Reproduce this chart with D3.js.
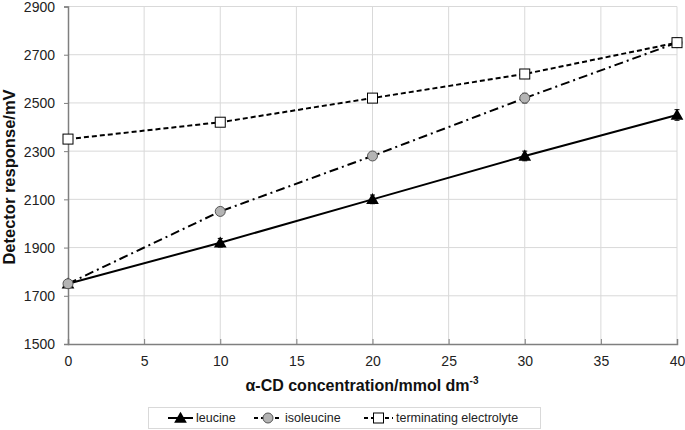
<!DOCTYPE html>
<html><head><meta charset="utf-8">
<script src="https://cdn.jsdelivr.net/npm/d3@7"></script>
<style>body{margin:0;background:#fff}svg{display:block;font-family:"Liberation Sans",Arial,sans-serif}</style>
</head><body><svg id="c" width="685" height="430"></svg>
<script>
const concentrations = [0, 10, 20, 30, 40];
const leucine = [1750, 1920, 2100, 2280, 2450];
const isoleucine = [1750, 2050, 2280, 2520, 2750];
const terminating = [2350, 2420, 2520, 2620, 2750];
const leucineErr = [15, 18, 18, 20, 22];
const isoleucineErr = [12, 15, 15, 20, 18];
const terminatingErr = [8, 8, 8, 10, 10];
const xTicks = [0, 5, 10, 15, 20, 25, 30, 35, 40];
const yTicks = [1500, 1700, 1900, 2100, 2300, 2500, 2700, 2900];
const seriesNames = ["leucine", "isoleucine", "terminating electrolyte"];

const svg = d3.select("#c");
const x = d3.scaleLinear().domain([0, 40]).range([68, 677]);
const y = d3.scaleLinear().domain([1500, 2900]).range([344, 6.5]);

// grid
svg.append("g").selectAll("line").data(xTicks.slice(1)).join("line")
  .attr("x1", d => x(d)).attr("x2", d => x(d)).attr("y1", y(2900)).attr("y2", y(1500))
  .attr("stroke", "#d9d9d9").attr("stroke-width", 1);
svg.append("g").selectAll("line").data(yTicks.slice(1)).join("line")
  .attr("x1", x(0)).attr("x2", x(40)).attr("y1", d => y(d)).attr("y2", d => y(d))
  .attr("stroke", "#d9d9d9").attr("stroke-width", 1);

// axes
const xAxis = svg.append("g").attr("transform", `translate(0,${y(1500)})`)
  .call(d3.axisBottom(x).tickValues(xTicks).tickSize(-5).tickPadding(12).tickFormat(d3.format("d")));
const yAxis = svg.append("g").attr("transform", `translate(${x(0)},0)`)
  .call(d3.axisLeft(y).tickValues(yTicks).tickSize(4).tickPadding(9).tickFormat(d3.format("d")));
[xAxis, yAxis].forEach(a => {
  a.select(".domain").attr("stroke", "#7f7f7f").attr("stroke-width", 1.5);
  a.selectAll(".tick line").attr("stroke", "#7f7f7f").attr("stroke-width", 1);
  a.selectAll(".tick text").attr("font-size", 14).attr("fill", "#222")
   .attr("font-family", "Liberation Sans, Arial, sans-serif");
});
yAxis.selectAll(".tick text").attr("dy", "0.35em");

// titles
const xt = svg.append("text").attr("x", 362).attr("y", 391).attr("text-anchor", "middle")
  .attr("font-size", 16).attr("font-weight", "bold").attr("fill", "#111");
xt.append("tspan").text("α-CD concentration/mmol dm");
xt.append("tspan").attr("font-size", 10).attr("dy", -7).text("-3");
svg.append("text").attr("transform", "translate(15,177) rotate(-90)").attr("text-anchor", "middle")
  .attr("font-size", 16.5).attr("font-weight", "bold").attr("fill", "#111").text("Detector response/mV");

const series = [
  {name: seriesNames[0], vals: leucine, err: leucineErr, dash: null, marker: "tri"},
  {name: seriesNames[1], vals: isoleucine, err: isoleucineErr, dash: "9,4,2,4", marker: "circ"},
  {name: seriesNames[2], vals: terminating, err: terminatingErr, dash: "5,3", marker: "sq"}
];
const line = d3.line().x(d => x(d[0])).y(d => y(d[1]));

function drawMarker(g, type, cx, cy) {
  if (type === "tri") {
    g.append("path").attr("d", d3.symbol(d3.symbolTriangle, 70)()).attr("transform", `translate(${cx},${cy+1})`)
      .attr("fill", "#000");
  } else if (type === "circ") {
    g.append("circle").attr("cx", cx).attr("cy", cy).attr("r", 5).attr("fill", "#b4b4b4").attr("stroke", "#555").attr("stroke-width", 1);
  } else {
    g.append("rect").attr("x", cx - 5).attr("y", cy - 5).attr("width", 10).attr("height", 10)
      .attr("fill", "#fff").attr("stroke", "#000").attr("stroke-width", 1);
  }
}

series.forEach(s => {
  const pts = concentrations.map((c, i) => [c, s.vals[i]]);
  const g = svg.append("g");
  pts.forEach((p, i) => {
    const e = s.err[i];
    g.append("line").attr("x1", x(p[0])).attr("x2", x(p[0])).attr("y1", y(p[1] - e)).attr("y2", y(p[1] + e)).attr("stroke", "#000").attr("stroke-width", 1);
    [p[1] - e, p[1] + e].forEach(v => g.append("line").attr("x1", x(p[0]) - 2.5).attr("x2", x(p[0]) + 2.5).attr("y1", y(v)).attr("y2", y(v)).attr("stroke", "#000").attr("stroke-width", 1));
  });
  g.append("path").attr("d", line(pts)).attr("fill", "none").attr("stroke", "#000").attr("stroke-width", 2)
    .attr("stroke-dasharray", s.dash);
  pts.forEach(p => drawMarker(g, s.marker, x(p[0]), y(p[1])));
});

// legend
const lg = svg.append("g");
lg.append("rect").attr("x", 148.5).attr("y", 407.5).attr("width", 392).attr("height", 21).attr("fill", "#fff").attr("stroke", "#d9d9d9");
const legPos = [{x0: 168, x1: 193, tx: 196}, {x0: 254, x1: 282, tx: 285}, {x0: 364, x1: 393, tx: 396}];
series.forEach((s, i) => {
  const p = legPos[i], cy = 418;
  lg.append("line").attr("x1", p.x0).attr("x2", p.x1).attr("y1", cy).attr("y2", cy).attr("stroke", "#000").attr("stroke-width", 2).attr("stroke-dasharray", s.dash ? "4,3" : null);
  drawMarker(lg, s.marker, (p.x0 + p.x1) / 2, cy);
  lg.append("text").attr("x", p.tx).attr("y", cy).attr("dy", "0.35em").attr("font-size", 12.5).attr("fill", "#222").text(s.name);
});
</script></body></html>
